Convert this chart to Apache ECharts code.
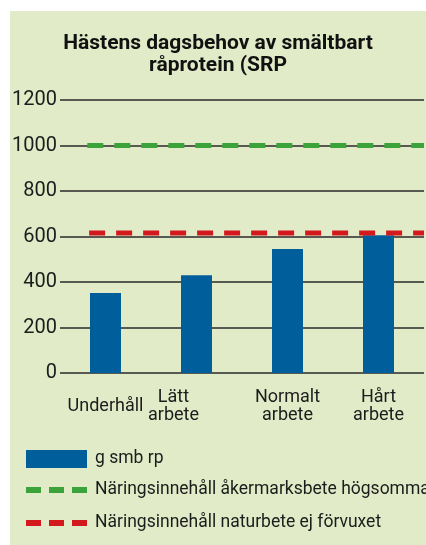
<!DOCTYPE html>
<html>
<head>
<meta charset="utf-8">
<script src="https://cdn.jsdelivr.net/npm/echarts@6/dist/echarts.min.js"></script>
<style>
  html, body { margin: 0; padding: 0; background: #ffffff; }
  #chart { position: absolute; left: 10px; top: 11px; width: 416px; height: 534px; background: #e1ebc7; }
</style>
</head>
<body>
<div id="chart"></div>
<script>
// data
var categories = ['Underhåll', 'Lätt\narbete', 'Normalt\narbete', 'Hårt\narbete'];
var gSmbRp = [352, 430, 545, 605];
var akermarksbete = 1000;   // Näringsinnehåll åkermarksbete högsommar
var naturbete = 615;        // Näringsinnehåll naturbete ej förvuxet
var yTicks = [0, 200, 400, 600, 800, 1000, 1200];

var names = ['g smb rp', 'Näringsinnehåll åkermarksbete högsommar', 'Näringsinnehåll naturbete ej förvuxet'];
var colors = { bar: '#005e9a', green: '#3ca33a', red: '#d3191e', text: '#1c1c1c', grid: '#2a2a2a' };
var font = 'Roboto';
var dashIcon = 'path://M0,0h15v6h-15z M23,0h15v6h-15z M46,0h15v6h-15z';

var chart = echarts.init(document.getElementById('chart'));

function flatLine(value, from) {
    return [[from, value], [categories.length, value]];
}

chart.setOption({
    animation: false,
    title: {
        text: 'Hästens dagsbehov av smältbart\nråprotein (SRP',
        left: 'center',
        top: 22,
        padding: 0,
        textStyle: { fontFamily: font, fontWeight: 'bold', fontSize: 21, lineHeight: 22, color: '#111' }
    },
    grid: { left: 50, right: 2, top: 89, bottom: 172, outerBoundsMode: 'none', containLabel: false },
    legend: [{
        data: [{ name: names[0], icon: 'rect' }],
        left: 16, top: 439, padding: 0,
        itemWidth: 61, itemHeight: 18, selectedMode: false,
        textStyle: { fontFamily: font, fontSize: 17.5, color: colors.text, padding: [0, 0, 0, 3] }
    }, {
        data: [{ name: names[1], icon: dashIcon, itemStyle: { color: colors.green }, lineStyle: { width: 0 } }],
        left: 16, top: 470, padding: 0,
        itemWidth: 61, itemHeight: 6, selectedMode: false,
        textStyle: { fontFamily: font, fontSize: 17.5, color: colors.text, padding: [0, 0, 10, 3] }
    }, {
        data: [{ name: names[2], icon: dashIcon, itemStyle: { color: colors.red }, lineStyle: { width: 0 } }],
        left: 16, top: 503, padding: 0,
        itemWidth: 61, itemHeight: 6, selectedMode: false,
        textStyle: { fontFamily: font, fontSize: 17.5, color: colors.text, padding: [0, 0, 18, 3] }
    }],
    xAxis: [{
        type: 'category',
        data: categories,
        axisLine: { show: false },
        axisTick: { show: false },
        axisLabel: {
            interval: 0,
            margin: 33,
            verticalAlign: 'middle',
            fontFamily: font, fontSize: 18, lineHeight: 18, color: colors.text,
            formatter: function(v, i) { return i === 1 ? '{l|' + v + '}' : v; },
            rich: { l: { fontFamily: font, fontSize: 18, lineHeight: 18, color: colors.text, padding: [0, 46, 0, 0] } }
        }
    }, {
        type: 'value', min: 0, max: categories.length, show: false
    }],
    yAxis: {
        type: 'value',
        min: yTicks[0], max: yTicks[yTicks.length - 1], interval: 200,
        axisLine: { show: false },
        axisTick: { show: false },
        axisLabel: { margin: 3, fontFamily: font, fontSize: 20, color: colors.text, formatter: function(v) { return String(v); } },
        splitLine: { lineStyle: { color: colors.grid, width: 1.5 } }
    },
    series: [{
        name: names[0],
        type: 'bar',
        data: gSmbRp,
        barWidth: 31,
        itemStyle: { color: colors.bar }
    }, {
        name: names[1],
        type: 'line',
        xAxisIndex: 1,
        data: flatLine(akermarksbete, 0.3),
        symbol: 'none',
        color: colors.green,
        lineStyle: { color: colors.green, width: 5, type: [16, 11], cap: 'butt' }
    }, {
        name: names[2],
        type: 'line',
        xAxisIndex: 1,
        data: flatLine(naturbete, 0.32),
        symbol: 'none',
        color: colors.red,
        lineStyle: { color: colors.red, width: 5, type: [16, 11], cap: 'butt' }
    }]
});
</script>
</body>
</html>
